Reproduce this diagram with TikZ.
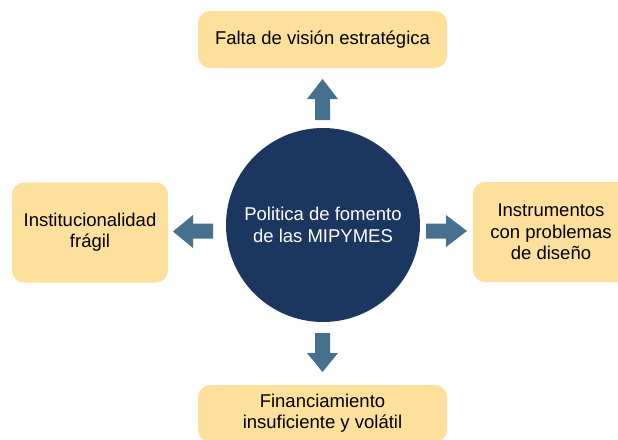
\documentclass[tikz,border=0pt]{standalone}
\usepackage{fontspec}
\setmainfont{Liberation Sans}
\definecolor{boxfill}{HTML}{FDE09B}
\definecolor{circfill}{HTML}{1B365F}
\definecolor{arrfill}{HTML}{46708E}
\begin{document}
\begin{tikzpicture}[x=1pt,y=-1pt,
  box/.style={draw=none,fill=boxfill,rounded corners=12pt,align=center,inner sep=0pt,
    font=\fontsize{18.5}{21.3}\selectfont},
  hub/.style={circle,fill=circfill,draw=none,minimum size=194pt,inner sep=0pt,align=center,
    text=white,font=\fontsize{18.5}{21.3}\selectfont},
  blockarrow/.style={fill=arrfill,draw=none}]
\useasboundingbox (0,0) rectangle (618,439);
\node[hub] (c) at (323,225) {Politica de fomento\\de las MIPYMES};
\node[box,minimum width=249pt,minimum height=57pt] (top) at (322.5,39.5) {Falta de visión estratégica};
\node[box,minimum width=156pt,minimum height=100pt] (left) at (90,232.5) {Institucionalidad\\frágil};
\node[box,minimum width=156pt,minimum height=100pt] (right) at (551,232) {Instrumentos\\con problemas\\de diseño};
\node[box,minimum width=249pt,minimum height=57pt] (bottom) at (322.5,413.5) {Financiamiento\\insuficiente y volátil};
% block arrows
\fill[blockarrow] (315,120) -- (315,99) -- (307,99) -- (322.5,79) -- (338,99) -- (330,99) -- (330,120) -- cycle;
\fill[blockarrow] (315,333) -- (315,353) -- (307,353) -- (322.5,372) -- (338,353) -- (330,353) -- (330,333) -- cycle;
\fill[blockarrow] (213,223.5) -- (193,223.5) -- (193,215) -- (173,231.5) -- (193,248) -- (193,238.5) -- (213,238.5) -- cycle;
\fill[blockarrow] (426,223.5) -- (446,223.5) -- (446,215) -- (467,231) -- (446,247) -- (446,238.5) -- (426,238.5) -- cycle;
\end{tikzpicture}
\end{document}
